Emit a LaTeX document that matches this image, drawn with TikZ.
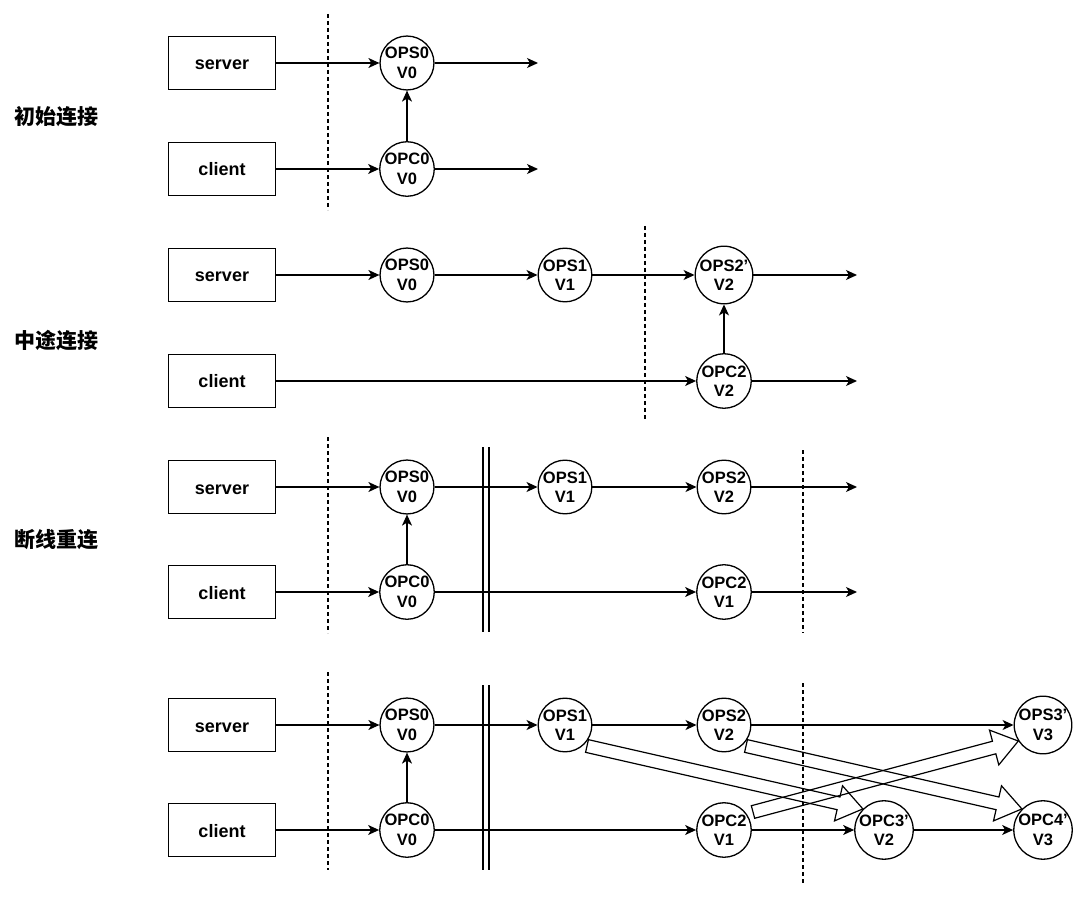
\documentclass[tikz,border=0pt]{standalone}
\usepackage{fontspec}
\setmainfont{Liberation Sans}
\newfontfamily\cjk{Noto Sans CJK SC}
\usetikzlibrary{arrows.meta,calc}
\newcommand\blockarrow[2]{%
  \coordinate (bbase) at ($(#2)!25pt!(#1)$);
  \draw[hollow]
    ($(#1)!6.5pt!90:(#2)$) -- ($(bbase)!6.5pt!90:(#2)$) -- ($(bbase)!18pt!90:(#2)$)
    -- (#2) -- ($(bbase)!18pt!-90:(#2)$) -- ($(bbase)!6.5pt!-90:(#2)$)
    -- ($(#1)!6.5pt!-90:(#2)$) -- cycle;
}
\begin{document}
\begin{tikzpicture}[x=1pt,y=-1pt,
  box/.style={draw, line width=1.4pt, minimum width=107pt, minimum height=53pt, inner sep=0pt,
    text height=15pt, text depth=1pt, font=\bfseries\fontsize{18}{20}\selectfont},
  op/.style={draw, circle, line width=1.3pt, minimum size=53pt, inner sep=0pt, align=center,
    font=\bfseries\fontsize{16.5}{19.5}\selectfont},
  flow/.style={-{Stealth[length=11pt,width=10pt,inset=3pt]}, line width=1.3pt},
  sep/.style={dash pattern=on 4pt off 3pt, line width=1.2pt},
  bar/.style={line width=1.2pt},
  hollow/.style={line width=1.2pt, line join=miter},
  lab/.style={font=\cjk\bfseries\fontsize{21}{24}\selectfont}
]
\fill[white] (0,0) rectangle (1080,904);
\useasboundingbox (0,0) rectangle (1080,904);

% ---------- labels ----------
\node[lab] (l1) at (57,117) {初始连接};
\node[lab] (l2) at (57,340) {中途连接};
\node[lab] (l3) at (57,540) {断线重连};

% ---------- section 1 ----------
\draw[sep] (328,14) -- (328,210);
\node[box] (sv1) at (222,63) {server};
\node[box] (cl1) at (222,169) {client};
\node[op] (s1a) at (407,63) {OPS0\\V0};
\node[op] (c1a) at (407,169) {OPC0\\V0};
\coordinate (e1s) at (538,63);
\coordinate (e1c) at (538,169);
\draw[flow] (sv1) -- (s1a);
\draw[flow] (s1a) -- (e1s);
\draw[flow] (cl1) -- (c1a);
\draw[flow] (c1a) -- (e1c);
\draw[flow] (c1a) -- (s1a);

% ---------- section 2 ----------
\draw[sep] (645,226) -- (645,420);
\node[box] (sv2) at (222,275) {server};
\node[box] (cl2) at (222,381) {client};
\node[op] (s2a) at (407,275) {OPS0\\V0};
\node[op] (s2b) at (565,275) {OPS1\\V1};
\node[op] (s2c) at (724,275) {OPS2'\\V2};
\node[op] (c2c) at (724,381) {OPC2\\V2};
\coordinate (e2s) at (857,275);
\coordinate (e2c) at (857,381);
\draw[flow] (sv2) -- (s2a);
\draw[flow] (s2a) -- (s2b);
\draw[flow] (s2b) -- (s2c);
\draw[flow] (s2c) -- (e2s);
\draw[flow] (cl2) -- (c2c);
\draw[flow] (c2c) -- (e2c);
\draw[flow] (c2c) -- (s2c);

% ---------- section 3 ----------
\draw[sep] (328,437) -- (328,633);
\draw[bar] (483,447) -- (483,632);
\draw[bar] (489,447) -- (489,632);
\draw[sep] (803,450) -- (803,633);
\node[box] (sv3) at (222,487) {server};
\node[box] (cl3) at (222,592) {client};
\node[op] (s3a) at (407,487) {OPS0\\V0};
\node[op] (s3b) at (565,487) {OPS1\\V1};
\node[op] (s3c) at (724,487) {OPS2\\V2};
\node[op] (c3a) at (407,592) {OPC0\\V0};
\node[op] (c3c) at (724,592) {OPC2\\V1};
\coordinate (e3s) at (857,487);
\coordinate (e3c) at (857,592);
\draw[flow] (sv3) -- (s3a);
\draw[flow] (s3a) -- (s3b);
\draw[flow] (s3b) -- (s3c);
\draw[flow] (s3c) -- (e3s);
\draw[flow] (cl3) -- (c3a);
\draw[flow] (c3a) -- (c3c);
\draw[flow] (c3c) -- (e3c);
\draw[flow] (c3a) -- (s3a);

% ---------- section 4 ----------
\draw[sep] (328,672) -- (328,870);
\draw[bar] (483,685) -- (483,870);
\draw[bar] (489,685) -- (489,870);
\draw[sep] (803,683) -- (803,884);
\node[box] (sv4) at (222,725) {server};
\node[box] (cl4) at (222,830) {client};
\node[op] (s4a) at (407,725) {OPS0\\V0};
\node[op] (s4b) at (565,725) {OPS1\\V1};
\node[op] (s4c) at (724,725) {OPS2\\V2};
\node[op] (s4d) at (1043,725) {OPS3'\\V3};
\node[op] (c4a) at (407,830) {OPC0\\V0};
\node[op] (c4b) at (724,830) {OPC2\\V1};
\node[op] (c4c) at (884,830) {OPC3'\\V2};
\node[op] (c4d) at (1043,830) {OPC4'\\V3};
\draw[flow] (sv4) -- (s4a);
\draw[flow] (s4a) -- (s4b);
\draw[flow] (s4b) -- (s4c);
\draw[flow] (s4c) -- (s4d);
\draw[flow] (cl4) -- (c4a);
\draw[flow] (c4a) -- (c4b);
\draw[flow] (c4b) -- (c4c);
\draw[flow] (c4c) -- (c4d);
\draw[flow] (c4a) -- (s4a);

\coordinate (t1) at ($(s4b)+(22,21)$);
\coordinate (h1) at (c4c.135);
\coordinate (t2) at ($(s4c)+(22,21)$);
\coordinate (h2) at (c4d.135);
\coordinate (t3) at ($(c4b)+(29,-18)$);
\coordinate (h3) at (s4d.213);
\blockarrow{t1}{h1}
\blockarrow{t2}{h2}
\blockarrow{t3}{h3}
\end{tikzpicture}
\end{document}
